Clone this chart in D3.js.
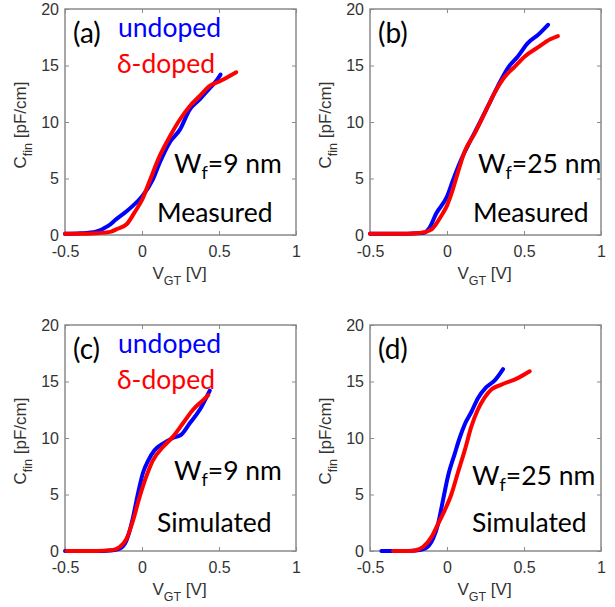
<!DOCTYPE html>
<html>
<head>
<meta charset="utf-8">
<title>C-V fin capacitance</title>
<style>
  body { margin: 0; background: #fff; }
  svg { display: block; }
</style>
</head>
<body>
<svg width="615" height="607"></svg>
<script src="https://d3js.org/d3.v7.min.js"></script>
<script>
// ---- data, [V_GT in V, C_fin in pF/cm] ----
var xTicks = [-0.5, 0, 0.5, 1];
var yTicks = [0, 5, 10, 15, 20];

var measured9Undoped = [[-0.5,0.1],[-0.4,0.15],[-0.3,0.3],[-0.22,0.8],[-0.167,1.4],[-0.1,2.1],[-0.058,2.6],[0,3.4],[0.07,4.9],[0.115,6.4],[0.18,8.2],[0.245,9.3],[0.31,11.1],[0.375,12.0],[0.44,13.0],[0.48,13.6],[0.51,14.2]];
var measured9Doped = [[-0.5,0.1],[-0.4,0.1],[-0.3,0.15],[-0.2,0.3],[-0.167,0.5],[-0.1,0.95],[-0.048,2.0],[0,3.1],[0.05,4.8],[0.115,7.0],[0.18,8.7],[0.245,10.2],[0.31,11.4],[0.375,12.3],[0.44,13.2],[0.505,13.6],[0.56,14.0],[0.612,14.4]];

var measured25Undoped = [[-0.5,0.1],[-0.4,0.1],[-0.3,0.1],[-0.2,0.15],[-0.15,0.2],[-0.115,0.6],[-0.07,1.9],[0,3.4],[0.04,4.9],[0.093,6.7],[0.158,8.5],[0.2,9.6],[0.266,11.4],[0.331,13.2],[0.396,14.8],[0.46,15.8],[0.526,17.0],[0.59,17.7],[0.656,18.6]];
var measured25Doped = [[-0.5,0.1],[-0.4,0.1],[-0.3,0.1],[-0.2,0.15],[-0.15,0.25],[-0.1,0.5],[-0.037,1.7],[0,2.6],[0.03,3.7],[0.07,5.5],[0.115,7.4],[0.18,9.0],[0.245,10.8],[0.31,12.6],[0.375,14.0],[0.44,14.9],[0.505,15.8],[0.59,16.6],[0.667,17.3],[0.72,17.6]];

var simulated9Undoped = [[-0.5,0],[-0.4,0],[-0.3,0],[-0.2,0.05],[-0.145,0.2],[-0.1,0.95],[-0.058,3.0],[-0.026,5.1],[0.006,6.9],[0.04,8.0],[0.08,8.9],[0.136,9.5],[0.2,10.0],[0.255,10.3],[0.31,11.3],[0.375,12.5],[0.44,14.2]];
var simulated9Doped = [[-0.49,0],[-0.4,0],[-0.3,0],[-0.188,0.1],[-0.145,0.35],[-0.1,1.1],[-0.058,2.7],[-0.015,4.8],[0.028,6.6],[0.07,8.0],[0.136,9.2],[0.2,10.1],[0.266,11.3],[0.331,12.5],[0.4,13.4],[0.43,13.8]];

var simulated25Undoped = [[-0.426,0],[-0.3,0],[-0.2,0.05],[-0.145,0.2],[-0.09,1.1],[-0.058,2.4],[-0.026,4.5],[0.006,6.6],[0.05,8.6],[0.082,10.0],[0.115,11.2],[0.158,12.3],[0.2,13.5],[0.255,14.5],[0.31,15.1],[0.364,16.1]];
var simulated25Doped = [[-0.35,0],[-0.25,0],[-0.21,0.05],[-0.156,0.35],[-0.1,1.25],[-0.058,2.4],[-0.015,3.6],[0.028,5.0],[0.07,6.9],[0.115,8.9],[0.158,11.0],[0.2,12.5],[0.245,13.6],[0.288,14.3],[0.35,14.7],[0.46,15.3],[0.537,15.9]];

var panelLetters = ["(a)", "(b)", "(c)", "(d)"];
var panelKinds = ["Measured", "Measured", "Simulated", "Simulated"];
var panelWidths = ["9", "25", "9", "25"];
var legendNames = ["undoped", "\u03b4-doped"];

// ---- layout ----
var svg = d3.select("svg");
var panels = [
  {left: 65, top: 9, undoped: measured9Undoped, doped: measured9Doped, legend: true,
   wfX: 174, wfY: 173, kindX: 157, kindY: 222},
  {left: 370, top: 9, undoped: measured25Undoped, doped: measured25Doped, legend: false,
   wfX: 478, wfY: 173, kindX: 473, kindY: 222},
  {left: 65, top: 325, undoped: simulated9Undoped, doped: simulated9Doped, legend: true,
   wfX: 174, wfY: 480, kindX: 157, kindY: 532},
  {left: 370, top: 325, undoped: simulated25Undoped, doped: simulated25Doped, legend: false,
   wfX: 472, wfY: 485, kindX: 472, kindY: 532}
];
var w = 231, h = 226;
var tickFont = "'Liberation Sans', Arial, sans-serif";
var noteFont = "Lato, 'Open Sans', sans-serif";
var noteSize = "26.5px";

panels.forEach(function(p, i) {
  var x = d3.scaleLinear().domain([-0.5, 1]).range([p.left, p.left + w]);
  var y = d3.scaleLinear().domain([0, 20]).range([p.top + h, p.top]);
  var g = svg.append("g");

  // box
  g.append("rect")
    .attr("x", p.left).attr("y", p.top)
    .attr("width", w).attr("height", h)
    .attr("fill", "none").attr("stroke", "#8a8a8a").attr("stroke-width", 1.5);

  // axes (ticks inside, all four sides)
  var ax = [
    d3.axisBottom(x).tickValues(xTicks).tickSize(-4).tickFormat(d3.format("")),
    d3.axisTop(x).tickValues(xTicks).tickSize(-4).tickFormat(""),
    d3.axisLeft(y).tickValues(yTicks).tickSize(-4),
    d3.axisRight(y).tickValues(yTicks).tickSize(-4).tickFormat("")
  ];
  var pos = ["translate(0," + (p.top + h) + ")", "translate(0," + p.top + ")",
             "translate(" + p.left + ",0)", "translate(" + (p.left + w) + ",0)"];
  ax.forEach(function(a, k) {
    var ag = g.append("g").attr("transform", pos[k]).call(a);
    ag.select(".domain").remove();
    ag.selectAll(".tick line").attr("stroke", "#8a8a8a").attr("stroke-width", 1);
    ag.selectAll(".tick text")
      .attr("fill", "#333")
      .style("font-family", tickFont)
      .style("font-size", "16px");
    if (k === 0) ag.selectAll(".tick text").attr("y", 11);
    if (k === 2) ag.selectAll(".tick text").attr("x", -6);
  });
  g.selectAll(".tick text").text(function() {
    return this.textContent.replace("\u2212", "-");
  });

  // axis labels
  var xl = g.append("text")
    .attr("x", p.left + w / 2 - 1).attr("y", p.top + h + 44)
    .attr("text-anchor", "middle").attr("fill", "#333")
    .style("font-family", tickFont).style("font-size", "17px");
  xl.append("tspan").text("V");
  xl.append("tspan").attr("dy", 6).style("font-size", "12.5px").text("GT");
  xl.append("tspan").attr("dy", -6).text(" [V]");

  var yl = g.append("text")
    .attr("transform", "translate(" + (p.left - 39) + "," + (p.top + h / 2 + 3) + ") rotate(-90)")
    .attr("text-anchor", "middle").attr("fill", "#333")
    .style("font-family", tickFont).style("font-size", "17px");
  yl.append("tspan").text("C");
  yl.append("tspan").attr("dy", 6).style("font-size", "12.5px").text("fin");
  yl.append("tspan").attr("dy", -6).text(" [pF/cm]");

  // curves
  var line = d3.line()
    .x(function(d) { return x(d[0]); })
    .y(function(d) { return y(d[1]); })
    .curve(d3.curveMonotoneX);
  [[p.undoped, "#0000ff"], [p.doped, "#ff0000"]].forEach(function(s) {
    g.append("path").datum(s[0])
      .attr("fill", "none").attr("stroke", s[1])
      .attr("stroke-width", 4)
      .attr("stroke-linejoin", "round").attr("stroke-linecap", "round")
      .attr("d", line);
  });

  // annotations
  g.append("text")
    .attr("x", p.left + 8).attr("y", p.top + 34)
    .style("font-family", noteFont).style("font-size", "28px")
    .attr("fill", "#000").text(panelLetters[i]);

  if (p.legend) {
    g.append("text").attr("x", p.left + 53).attr("y", p.top + 28)
      .style("font-family", noteFont).style("font-size", noteSize)
      .attr("fill", "#0000ff").text(legendNames[0]);
    g.append("text").attr("x", p.left + 52).attr("y", p.top + 64)
      .style("font-family", noteFont).style("font-size", noteSize)
      .attr("fill", "#ff0000").text(legendNames[1]);
  }

  var wf = g.append("text").attr("x", p.wfX).attr("y", p.wfY)
    .style("font-family", noteFont).style("font-size", noteSize).attr("fill", "#000");
  wf.append("tspan").text("W");
  wf.append("tspan").attr("dy", 6).style("font-size", "18px").text("f");
  wf.append("tspan").attr("dy", -6).text("=" + panelWidths[i] + " nm");

  g.append("text").attr("x", p.kindX).attr("y", p.kindY)
    .style("font-family", noteFont).style("font-size", noteSize)
    .attr("fill", "#000").text(panelKinds[i]);
});
</script>
</body>
</html>
